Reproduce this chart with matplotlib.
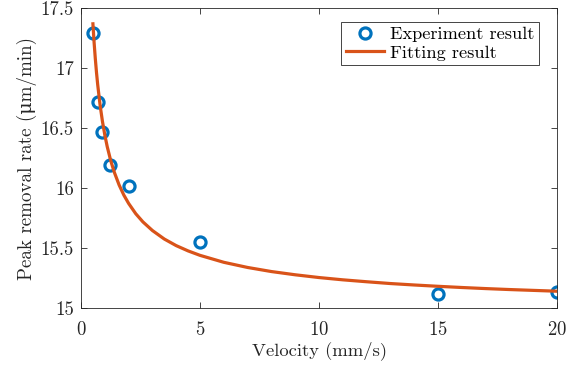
import matplotlib
matplotlib.use("Agg")
import matplotlib.pyplot as plt

# measured peak removal rate vs. scan velocity
velocity = [0.5, 0.7, 0.9, 1.2, 2.0, 5.0, 15.0, 20.0]
removal_rate = [17.29, 16.72, 16.47, 16.19, 16.02, 15.55, 15.12, 15.13]

# fitted curve, sampled along the velocity range
fit_velocity = [0.5, 0.55, 0.6, 0.65, 0.7, 0.8, 0.9, 1.0, 1.1, 1.25, 1.4, 1.6,
                1.8, 2.0, 2.3, 2.6, 3.0, 3.5, 4.0, 4.5, 5.0, 6.0, 7.0, 8.0,
                9.0, 10.0, 11.0, 12.0, 13.0, 14.0, 15.0, 16.0, 17.0, 18.0,
                19.0, 20.0]
fit_rate = [17.369, 17.213, 17.080, 16.964, 16.863, 16.693, 16.556, 16.442,
            16.346, 16.227, 16.131, 16.026, 15.941, 15.872, 15.786, 15.718,
            15.646, 15.575, 15.520, 15.476, 15.439, 15.381, 15.338, 15.304,
            15.277, 15.254, 15.235, 15.219, 15.204, 15.192, 15.181, 15.171,
            15.162, 15.154, 15.147, 15.140]

plt.rcParams["font.family"] = ["cmr10", "DejaVu Serif"]
plt.rcParams["mathtext.fontset"] = "cm"
plt.rcParams["axes.formatter.use_mathtext"] = True

fig = plt.figure(figsize=(5.75, 3.68), dpi=100)
ax = fig.add_axes([0.1409, 0.163, 0.8278, 0.815])

ax.plot(velocity, removal_rate, "o", markersize=8, markerfacecolor="none",
        markeredgecolor="#0072BD", markeredgewidth=2.3, label="Experiment result")
ax.plot(fit_velocity, fit_rate, "-", color="#D95319", linewidth=2.3,
        label="Fitting result")

ax.set_xlim(0, 20)
ax.set_ylim(15, 17.5)
ax.set_xticks([0, 5, 10, 15, 20])
ax.set_yticks([15, 15.5, 16, 16.5, 17, 17.5])
ax.set_yticklabels(["15", "15.5", "16", "16.5", "17", "17.5"])
ax.tick_params(direction="in", top=True, right=True, length=4, width=0.6,
               labelsize=13.5, colors="#262626")
ax.tick_params(axis="x", pad=9)
ax.tick_params(axis="y", pad=5)
for s in ax.spines.values():
    s.set_linewidth(0.6)
    s.set_color("#262626")

ax.set_xlabel("Velocity (mm/s)", fontsize=13.4, color="#262626", labelpad=2)
ax.set_ylabel("Peak removal rate (μm/min)", fontsize=13.7, color="#262626",
              labelpad=3)

leg = ax.legend(loc="upper right", fontsize=13.2, fancybox=False, framealpha=1,
                edgecolor="#262626", borderpad=0.25, handlelength=2.1,
                handletextpad=0.3, labelspacing=0.15, borderaxespad=0,
                bbox_to_anchor=(0.962, 0.955))
leg.get_frame().set_linewidth(0.6)

fig.savefig("out.png", dpi=100)
